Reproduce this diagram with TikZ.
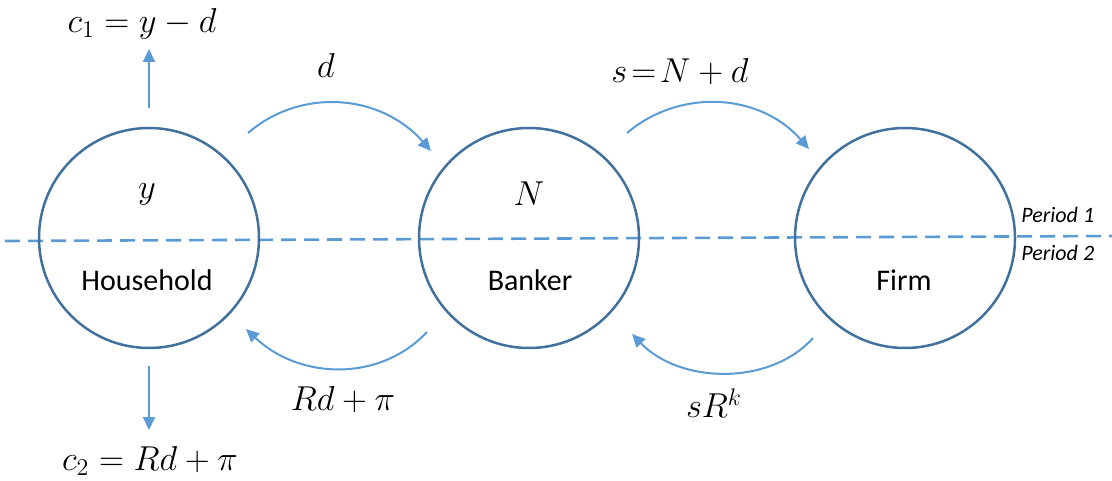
\documentclass[tikz,border=0pt]{standalone}
\usepackage{fontspec}
\setsansfont{Carlito}
\usetikzlibrary{arrows.meta}
\definecolor{circ}{HTML}{41719C}
\definecolor{arc}{HTML}{5B9BD5}
\begin{document}
\begin{tikzpicture}[x=0.5pt,y=-0.5pt,
  agent/.style={circle,draw=circ,line width=1.25pt,minimum size=110pt,inner sep=0pt},
  flow/.style={draw=arc,line width=1pt,-{Triangle[length=6.5pt,width=6pt]}},
  mlab/.style={font=\fontsize{18.5}{22}\selectfont,inner sep=0pt},
  tlab/.style={font=\sffamily\fontsize{15}{18}\selectfont,inner sep=0pt},
  plab/.style={font=\sffamily\itshape\fontsize{11}{13}\selectfont,inner sep=0pt,anchor=west}]
\useasboundingbox (0,0) rectangle (1112,481);
% dashed period line
\coordinate (dl) at (5,241);
\coordinate (dr) at (1112,236);
\draw[arc,line width=1.3pt,dash pattern=on 7.5pt off 4pt] (dl) -- (dr);
% agents
\node[agent] (hh) at (149,238) {};
\node[agent] (bk) at (529,238) {};
\node[agent] (fm) at (905,238) {};
% inside labels
\node[mlab] (ly) at (147,194) {$y$};
\node[mlab] (lN) at (529,194) {$N$};
\node[tlab] (lhh) at (147,280) {Household};
\node[tlab] (lbk) at (530,280) {Banker};
\node[tlab] (lfm) at (904,280) {Firm};
% period labels
\node[plab] (p1) at (1021,215) {Period 1};
\node[plab] (p2) at (1021,253) {Period 2};
% consumption
\node[mlab] (c1) at (142,24) {$c_1 = y - d$};
\node[mlab] (c2) at (150,461) {$c_2 = Rd + \pi$};
\coordinate (c1s) at (149,108);
\coordinate (c1e) at (149,49);
\coordinate (c2s) at (149,366);
\coordinate (c2e) at (149,430);
\draw[flow] (c1s) -- (c1e);
\draw[flow] (c2s) -- (c2e);
% arcs
\coordinate (a1s) at (248,133); \coordinate (a1e) at (431,151);
\draw[flow] (a1s) .. controls (300,88) and (380,93) .. (a1e);
\node[mlab] (ld) at (326,66) {$d$};
\coordinate (a2s) at (627,133); \coordinate (a2e) at (809,149);
\draw[flow] (a2s) .. controls (680,88) and (760,93) .. (a2e);
\node[mlab] (ls) at (680,72) {$s\!=\!N + d$};
\coordinate (a3s) at (427,332); \coordinate (a3e) at (246,329);
\draw[flow] (a3s) .. controls (380,382) and (300,380) .. (a3e);
\node[mlab] (lr) at (343,400) {$Rd + \pi$};
\coordinate (a4s) at (813,338); \coordinate (a4e) at (632,334);
\draw[flow] (a4s) .. controls (770,386) and (680,384) .. (a4e);
\node[mlab] (lk) at (714,403) {$sR^k$};
\end{tikzpicture}
\end{document}
